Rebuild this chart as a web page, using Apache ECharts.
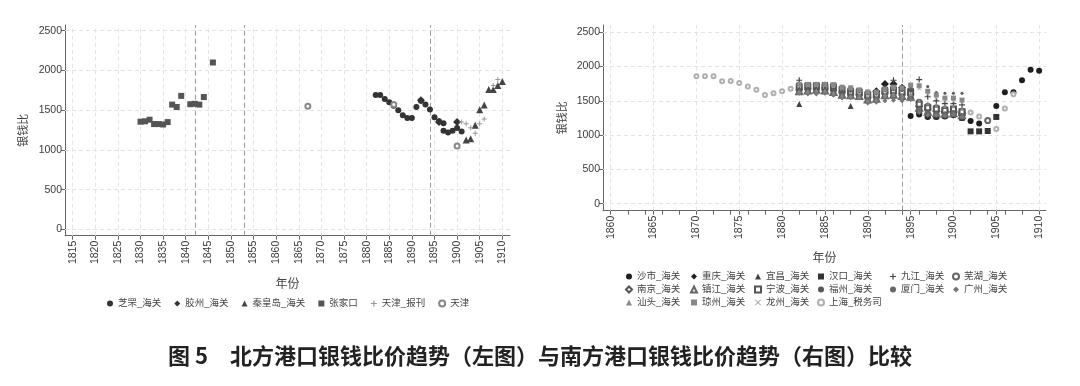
<!DOCTYPE html>
<html><head><meta charset="utf-8">
<script src="https://cdn.jsdelivr.net/npm/echarts@6/dist/echarts.min.js"></script>
<style>html,body{margin:0;padding:0;background:#fff}#c{width:1080px;height:386px}</style>
</head><body><div id="c"></div>
<script>
// ---------------- DATA ----------------
// Left chart (north ports): [year, silver-copper ratio]
const zhifu = [[1882,1690],[1883,1690],[1884,1640],[1885,1600],[1886,1555],[1887,1500],[1888,1435],[1889,1400],[1890,1400],[1891,1540],[1892,1620],[1893,1570],[1894,1510],[1895,1410],[1896,1360],[1897,1335],[1897,1240],[1898,1220],[1899,1240],[1900,1275],[1901,1230]];
const jiaozhou = [[1892,1625],[1896,1350],[1900,1350]];
const qinhuangdao = [[1902,1125],[1903,1140],[1904,1310],[1905,1505],[1906,1565],[1907,1760],[1908,1760],[1909,1810],[1910,1860]];
const zhangjiakou = [[1830,1355],[1831,1360],[1832,1380],[1833,1325],[1834,1325],[1835,1320],[1836,1350],[1837,1570],[1838,1540],[1839,1680],[1841,1575],[1842,1580],[1843,1570],[1844,1665],[1846,2100]];
const tianjinPress = [[1901,1350],[1902,1330],[1903,1280],[1904,1210],[1905,1330],[1906,1390],[1908,1810],[1909,1885]];
const tianjin = [[1867,1550],[1886,1570],[1900,1050]];

// Right chart (south ports)
const years8201 = [1882,1883,1884,1885,1886,1887,1888,1889,1890,1891,1892,1893,1894,1895,1896,1897,1898,1899,1900,1901];
const shashi = [[1895,1280],[1896,1300],[1897,1265],[1898,1265],[1899,1270],[1900,1290],[1901,1250],[1902,1205],[1903,1170],[1904,1210],[1905,1425],[1906,1625],[1907,1625],[1908,1800],[1909,1955],[1910,1940]];
const chongqing = [[1891,1640],[1892,1745],[1893,1745],[1894,1690],[1895,1600],[1896,1420],[1897,1380],[1898,1350],[1899,1330],[1900,1330],[1901,1290]];
const yichangV   = [1455,1700,1700,1700,1690,1640,1425,1620,1580,1580,1610,1620,1610,1570,1380,1300,1290,1300,1320,1280];
const hankouV    = [1720,1730,1730,1730,1720,1670,1650,1640,1600,1600,1660,1680,1660,1570,1350,1285,1275,1285,1305,1255];
const hankouLate = [[1902,1055],[1903,1055],[1904,1060],[1905,1265]];
const jiujiangV  = [1800,1720,1720,1720,1700,1650,1640,1620,1590,1600,1690,1800,1660,1680,1810,1560,1500,1460,1460,1440];
const wuhuV      = [1660,1680,1680,1680,1660,1620,1600,1590,1550,1560,1620,1620,1600,1650,1480,1420,1400,1380,1360,1350];
const wuhuLate   = [[1904,1215]];
const nanjing    = [[1899,1350],[1900,1340],[1901,1320]];
const zhenjiangV = [1640,1650,1660,1650,1630,1590,1580,1570,1520,1530,1580,1590,1570,1560,1400,1340,1320,1310,1320,1290];
const ningboV    = [1700,1710,1710,1700,1690,1660,1630,1620,1580,1590,1640,1650,1630,1620,1450,1400,1380,1360,1380,1340];
const fuzhouV    = [1680,1690,1690,1690,1680,1650,1640,1630,1600,1600,1650,1660,1650,1640,1720,1710,1620,1610,1610,1610];
const xiamenV    = [1620,1620,1630,1630,1600,1560,1560,1550,1490,1500,1560,1560,1540,1530,1360,1320,1310,1310,1330,1280];
const guangzhouV = [1610,1600,1600,1610,1580,1540,1545,1540,1470,1480,1500,1510,1500,1520,1330,1290,1290,1280,1300,1260];
const shantouV   = [1640,1640,1650,1650,1620,1580,1570,1560,1510,1520,1570,1580,1560,1600,1500,1460,1430,1420,1420,1390];
const qiongzhouV = [1740,1740,1740,1740,1735,1700,1690,1660,1630,1630,1670,1700,1690,1730,1720,1640,1585,1540,1540,1510];
const longzhouV  = [null,null,null,null,null,null,null,1600,1560,1570,1600,1610,1590,1600,1680,1600,1540,1500,1490,1470];
const shanghai = [[1870,1860],[1871,1860],[1872,1860],[1873,1785],[1874,1790],[1875,1760],[1876,1710],[1877,1660],[1878,1585],[1879,1610],[1880,1640],[1881,1675],[1902,1330],[1903,1270],[1905,1090],[1906,1390],[1907,1595]];

// Axis ticks
const yTicks = [0,500,1000,1500,2000,2500];
const leftXTicks = [1815,1820,1825,1830,1835,1840,1845,1850,1855,1860,1865,1870,1875,1880,1885,1890,1895,1900,1905,1910];
const rightXTicks = [1860,1865,1870,1875,1880,1885,1890,1895,1900,1905,1910];
const rightMinorTicks = [1860,1862,1864,1865,1866,1868,1870,1872,1874,1875,1876,1878,1880,1882,1884,1885,1886,1888,1890,1892,1894,1895,1896,1898,1900,1902,1904,1905,1906,1908,1910];
const leftRefYears = [1842,1853,1894];
const rightRefYears = [1894];

// ---------------- CHART ----------------
const FONT = '"Liberation Sans", "Noto Sans CJK SC", sans-serif';
const PLUS = 'path://M4,0H6V4H10V6H6V10H4V6H0V4H4Z';
const CROSS = 'path://M1,0L5,4L9,0L10,1L6,5L10,9L9,10L5,6L1,10L0,9L4,5L0,1Z';
function zip(ys, vs){ const o=[]; ys.forEach((y,i)=>{ if(vs[i]!=null) o.push([y,vs[i]]); }); return o; }
const plain = v => String(Math.round(v));

const chart = echarts.init(document.getElementById('c'));

function xAxisCfg(idx, min, max, labels, ticks, nameGap){
  return {gridIndex:idx, type:'value', min:min, max:max, name:'年份', nameLocation:'middle', nameGap:nameGap,
    nameTextStyle:{fontSize:12, color:'#444', fontFamily:FONT},
    axisLine:{show:true, onZero:false, lineStyle:{color:'#666', width:1}},
    axisTick:{show:true, length:4, customValues:ticks, lineStyle:{color:'#666'}},
    axisLabel:{customValues:labels, formatter:plain, rotate:90, fontSize:10.5, color:'#3a3a3a', margin:5, fontFamily:FONT},
    splitLine:{show:false}};
}
function yAxisCfg(idx, min, max, nameGap){
  return {gridIndex:idx, type:'value', min:min, max:max, name:'银钱比', nameLocation:'middle', nameGap:nameGap,
    nameTextStyle:{fontSize:11, color:'#444', fontFamily:FONT},
    axisLine:{show:true, onZero:false, lineStyle:{color:'#666', width:1}},
    axisTick:{show:true, length:4, customValues:yTicks, lineStyle:{color:'#666'}},
    axisLabel:{customValues:yTicks, formatter:plain, fontSize:10.5, color:'#3a3a3a', margin:3, fontFamily:FONT},
    splitLine:{show:false}};
}
function gridLines(idx, xt){
  return {type:'scatter', xAxisIndex:idx, yAxisIndex:idx, data:[], silent:true, z:1,
    markLine:{symbol:['none','none'], silent:true, animation:false, label:{show:false},
      lineStyle:{type:[4,3], color:'#e4e4e4', width:1},
      data: xt.map(v=>({xAxis:v})).concat(yTicks.map(v=>({yAxis:v})))}};
}
function refLines(idx, years){
  return {type:'scatter', xAxisIndex:idx, yAxisIndex:idx, data:[], silent:true, z:2,
    markLine:{symbol:['none','none'], silent:true, animation:false, label:{show:false},
      lineStyle:{type:[5,3], color:'#9a9a9a', width:1},
      data: years.map(v=>({xAxis:v}))}};
}
function sc(name, idx, data, symbol, size, color){
  return {name:name, type:'scatter', xAxisIndex:idx, yAxisIndex:idx, data:data, symbol:symbol, symbolSize:size,
    itemStyle:{color:color, borderColor:color, borderWidth:(String(symbol).startsWith('empty')?1:0), opacity:1}, z:5, emphasis:{disabled:true}};
}

const series = [
  gridLines(0, leftXTicks), refLines(0, leftRefYears),
  gridLines(1, rightXTicks), refLines(1, rightRefYears),
  sc('芝罘_海关',0,zhifu,'circle',6,'#333'),
  sc('胶州_海关',0,jiaozhou,'diamond',8,'#333'),
  sc('秦皇岛_海关',0,qinhuangdao,'triangle',7,'#444'),
  sc('张家口',0,zhangjiakou,'rect',6,'#555'),
  sc('天津_报刊',0,tianjinPress,PLUS,5,'#999'),
  sc('天津',0,tianjin,'emptyCircle',5,'#888'),

  sc('沙市_海关',1,shashi,'circle',6,'#1e1e1e'),
  sc('重庆_海关',1,chongqing,'diamond',8,'#1e1e1e'),
  sc('宜昌_海关',1,zip(years8201,yichangV),'triangle',6,'#444'),
  sc('汉口_海关',1,zip(years8201,hankouV).concat(hankouLate),'rect',6,'#333'),
  sc('九江_海关',1,zip(years8201,jiujiangV),PLUS,6,'#444'),
  sc('芜湖_海关',1,zip(years8201,wuhuV).concat(wuhuLate),'emptyCircle',5,'#666'),
  sc('南京_海关',1,nanjing,'emptyDiamond',6,'#555'),
  sc('镇江_海关',1,zip(years8201,zhenjiangV),'emptyTriangle',6,'#666'),
  sc('宁波_海关',1,zip(years8201,ningboV),'emptyRect',5,'#555'),
  sc('福州_海关',1,zip(years8201,fuzhouV),'circle',3,'#555'),
  sc('厦门_海关',1,zip(years8201,xiamenV),'circle',5,'#666'),
  sc('广州_海关',1,zip(years8201,guangzhouV),'diamond',5,'#777'),
  sc('汕头_海关',1,zip(years8201,shantouV),'triangle',4,'#888'),
  sc('琼州_海关',1,zip(years8201,qiongzhouV),'rect',5,'#888'),
  sc('龙州_海关',1,zip(years8201,longzhouV),CROSS,4,'#999'),
  sc('上海_税务司',1,shanghai,'emptyCircle',4,'#b0b0b0')
];

const legTxt = {fontSize:9.5, color:'#444', fontFamily:FONT, lineHeight:13};
function colLegend(x, names){
  return {orient:'vertical', left:x, top:270, data:names, itemWidth:6, itemHeight:6, itemGap:0,
    selectedMode:false, textStyle:legTxt, padding:0};
}

const option = {
  animation:false,
  backgroundColor:'#fff',
  title:{text:'图 5　北方港口银钱比价趋势（左图）与南方港口银钱比价趋势（右图）比较', left:'center', top:340,
    textStyle:{fontSize:22, fontWeight:'bold', color:'#222', fontFamily:'"Noto Sans CJK SC", sans-serif'}},
  grid:[{left:65, top:25, width:445, height:210.7},{left:603, top:25, width:443, height:185.7}],
  xAxis:[xAxisCfg(0,1813.3,1911.7,leftXTicks,leftXTicks,43), xAxisCfg(1,1859.1,1910.8,rightXTicks,rightMinorTicks,42)],
  yAxis:[yAxisCfg(0,-80,2572,36), yAxisCfg(1,-102,2606,35)],
  legend:[
    {orient:'horizontal', left:107, top:297, data:['芝罘_海关','胶州_海关','秦皇岛_海关','张家口','天津_报刊','天津'],
      itemWidth:6, itemHeight:6, itemGap:13, selectedMode:false, textStyle:legTxt, padding:0},
    colLegend(625,['沙市_海关','南京_海关','汕头_海关']),
    colLegend(690,['重庆_海关','镇江_海关','琼州_海关']),
    colLegend(754,['宜昌_海关','宁波_海关','龙州_海关']),
    colLegend(817,['汉口_海关','福州_海关','上海_税务司']),
    colLegend(890,['九江_海关','厦门_海关']),
    colLegend(952,['芜湖_海关','广州_海关'])
  ],
  series:series
};
chart.setOption(option);
</script></body></html>
